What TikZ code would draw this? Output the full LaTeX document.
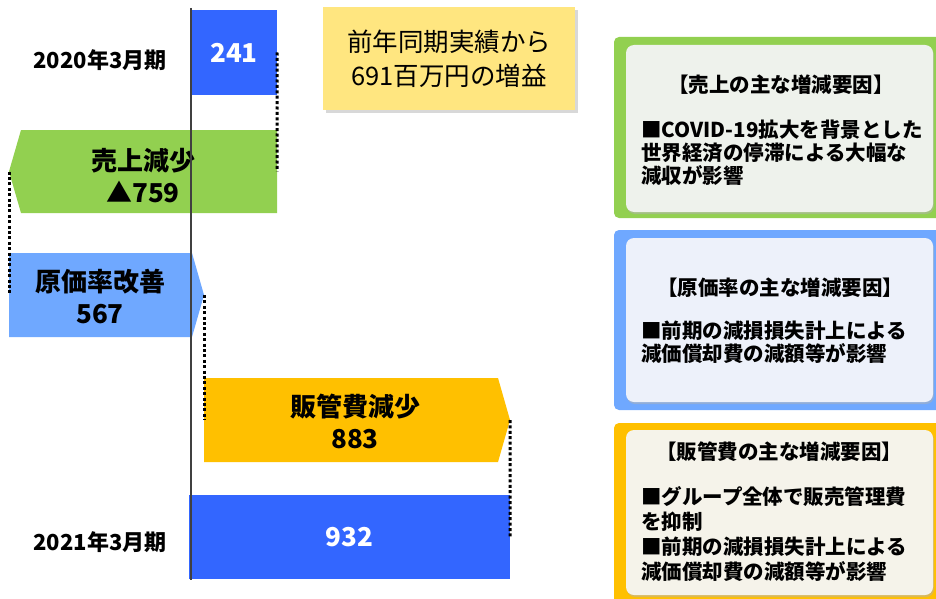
\documentclass[tikz,border=0pt]{standalone}
\usepackage{fontspec}
\setmainfont{Noto Sans CJK JP}
\usetikzlibrary{calc, shadows}

\definecolor{barblue}{HTML}{3366FF}
\definecolor{salesgreen}{HTML}{92D050}
\definecolor{costblue}{HTML}{6FA8FF}
\definecolor{sgaorange}{HTML}{FFC000}
\definecolor{gainyellow}{HTML}{FFE680}
\definecolor{salesfill}{HTML}{EEF2EC}
\definecolor{costfill}{HTML}{EDF1FA}
\definecolor{sgafill}{HTML}{F5F3EA}

\newcommand\barsize{\fontsize{26}{32}\selectfont}
\newcommand\yearsize{\fontsize{22}{25}\selectfont}
\newcommand\gainsize{\fontsize{25.5}{34}\selectfont}
\newcommand\notesize{\fontsize{20.5}{23}\selectfont}

\begin{document}
\begin{tikzpicture}[x=1pt,y=-1pt]
  %\draw (0, 0) grid[step=50] (936, 599);
  \clip (0,0) rectangle (936,599);

  % Steps:
  \tikzset{bar/.style={fill=barblue,text=white,font=\barsize\bfseries,inner sep=0pt},
           boxtext/.style={font=\barsize\bfseries,align=center,inner sep=0pt},
           yearlbl/.style={font=\yearsize\bfseries,inner sep=0pt},
           link/.style={line width=3pt,dash pattern=on 3pt off 2.4pt}}
  \node[bar,minimum width=86,minimum height=85]  (y2020) at (234,52.5) {241};
  \node[bar,minimum width=321,minimum height=84] (y2021) at (349.5,537) {932};

  \fill[salesgreen] (277,130) -- (21,130) -- (9,171.5) -- (21,213) -- (277,213) -- cycle;
  \coordinate (salesR) at (277,171.5);
  \coordinate (salesL) at (9,171.5);
  \node[boxtext] (salestxt) at (143,176) {売上減少\\▲759};

  \fill[costblue] (9,253) -- (192,253) -- (204,295) -- (192,337) -- (9,337) -- cycle;
  \coordinate (costL) at (9,295);
  \coordinate (costR) at (204,295);
  \node[boxtext] (costtxt) at (100,296.5) {原価率改善\\567};

  \fill[sgaorange] (204,378) -- (498,378) -- (510,420) -- (498,462) -- (204,462) -- cycle;
  \coordinate (sgaL) at (204,420);
  \coordinate (sgaR) at (510,420);
  \node[boxtext] (sgatxt) at (355,421.5) {販管費減少\\883};

  \draw[line width=1.3pt,black!75] (191,8) -- (191,580);

  \node[yearlbl] (t2020) at (100,60)  {2020年3月期};
  \node[yearlbl] (t2021) at (100,542) {2021年3月期};

  % t2020 -> sales -> cost -> sga -> t2021
  \draw[link] (y2020.east) -- (salesR);
  \draw[link] (salesL) -- (costL);
  \draw[link] (costR) -- (sgaL);
  \draw[link] (sgaR) -- (y2021.east);

  % Summary:
  \node[fill=gainyellow,minimum width=252,minimum height=103,align=center,font=\gainsize,
        drop shadow={shadow xshift=3pt,shadow yshift=-3pt,fill=black!30}] (gain) at (449,58.5)
        {前年同期実績から\\691百万円の増益};

  % Reasons:
  \tikzset{frame/.style={rounded corners=5pt},
           panel/.style={rounded corners=8pt,drop shadow={shadow xshift=1pt,shadow yshift=-2pt,fill=black!30}},
           note/.style={font=\notesize\bfseries,align=left,inner sep=0pt}}

  \fill[frame,salesgreen] (614,37) rectangle (946,218);
  \fill[panel,salesfill] (626,45) rectangle (933,212);
  \node[note] (salesttl) at (781,85) {【売上の主な増減要因】};
  \node[note,anchor=west] (salesnote) at (641,152.5)
       {■COVID-19拡大を背景とした\\世界経済の停滞による大幅な\\減収が影響};

  \fill[frame,costblue] (614,230) rectangle (946,410);
  \fill[panel,costfill] (626,238) rectangle (933,402);
  \node[note] (costttl) at (780,288) {【原価率の主な増減要因】};
  \node[note,anchor=west] (costnote) at (641,342.5)
       {■前期の減損損失計上による\\減価償却費の減額等が影響};

  \fill[frame,sgaorange] (614,423) rectangle (946,610);
  \fill[panel,sgafill] (626,430) rectangle (933,595);
  \node[note] (sgattl) at (779,452) {【販管費の主な増減要因】};
  \node[note,anchor=west] (sganote) at (641,534.5)
       {■グループ全体で販売管理費\\[2pt]を抑制\\[2pt]■前期の減損損失計上による\\[2pt]減価償却費の減額等が影響};

\end{tikzpicture}
\end{document}
